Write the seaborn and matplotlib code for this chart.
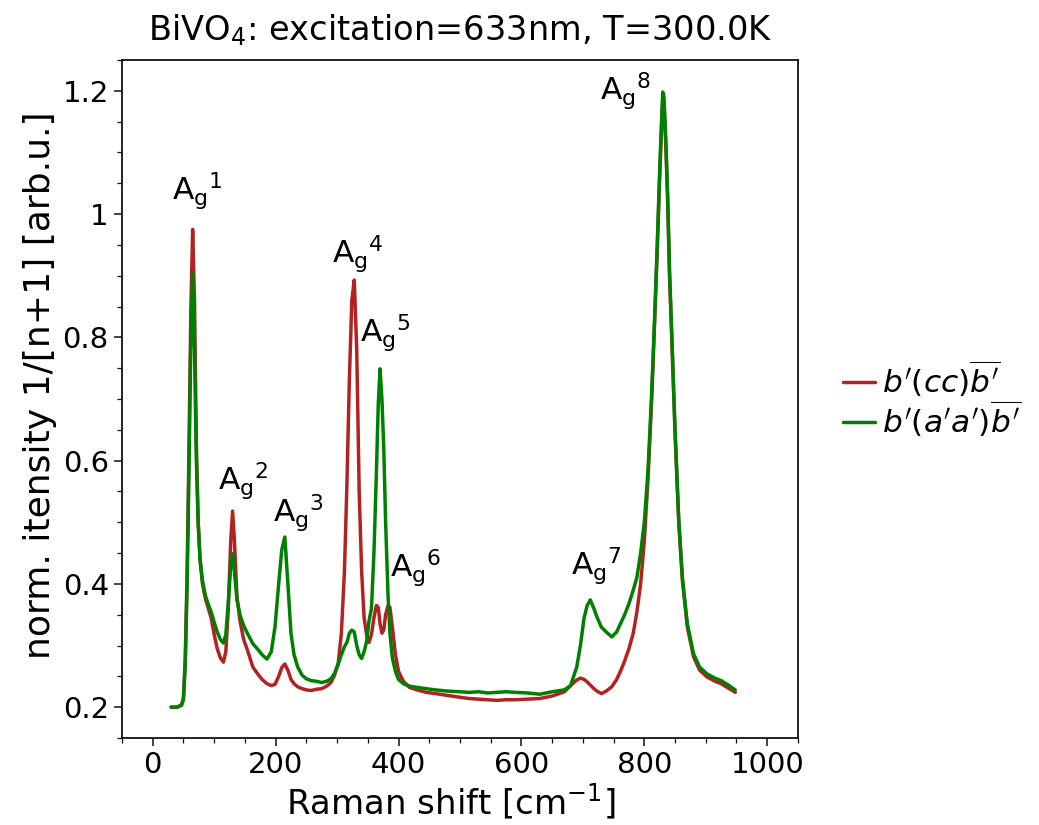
import matplotlib
matplotlib.use("Agg")
import matplotlib.pyplot as plt
from matplotlib.ticker import MultipleLocator, FuncFormatter
import pandas as pd
import seaborn as sns

# Raman shift grid [cm^-1]
raman_shift = [
    30, 40, 47, 50, 53, 56, 59, 62, 65, 68, 71, 74, 77, 81, 86, 90, 95, 100,
    105, 110, 115, 119, 123, 127, 130, 133, 137, 142, 148, 155, 163, 170, 178,
    186, 193, 199, 205, 210, 215, 220, 225, 230, 236, 243, 250, 258, 266, 275,
    283, 290, 296, 302, 307, 312, 316, 320, 324, 328, 332, 336, 340, 344, 348,
    352, 356, 360, 364, 367, 370, 373, 376, 379, 383, 386, 390, 395, 400, 408,
    418, 430, 445, 460, 480, 500, 515, 530, 545, 560, 575, 590, 610, 630, 650,
    670, 680, 690, 696, 702, 707, 712, 718, 723, 730, 738, 747, 755, 762, 768,
    775, 782, 788, 794, 800, 806, 812, 817, 821, 825, 828, 830, 832, 835, 838,
    841, 845, 850, 856, 862, 870, 880, 890, 902, 915, 925, 935, 948,
]

# normalised intensity, b'(cc)b' geometry
intensity_cc = [
    0.200, 0.200, 0.204, 0.215, 0.280, 0.420, 0.620, 0.840, 0.975, 0.860,
    0.630, 0.500, 0.440, 0.400, 0.375, 0.362, 0.345, 0.318, 0.295, 0.280,
    0.273, 0.290, 0.360, 0.470, 0.518, 0.470, 0.380, 0.340, 0.310, 0.290,
    0.265, 0.255, 0.245, 0.238, 0.235, 0.237, 0.250, 0.264, 0.270, 0.260,
    0.245, 0.238, 0.233, 0.230, 0.228, 0.227, 0.229, 0.230, 0.234, 0.240,
    0.252, 0.272, 0.320, 0.420, 0.560, 0.730, 0.860, 0.893, 0.780, 0.550,
    0.420, 0.345, 0.318, 0.305, 0.318, 0.345, 0.365, 0.362, 0.335, 0.320,
    0.325, 0.350, 0.365, 0.362, 0.330, 0.285, 0.258, 0.242, 0.232, 0.228,
    0.224, 0.222, 0.219, 0.216, 0.214, 0.213, 0.212, 0.211, 0.212, 0.212,
    0.213, 0.214, 0.218, 0.225, 0.235, 0.244, 0.247, 0.245, 0.241, 0.236,
    0.230, 0.226, 0.222, 0.226, 0.233, 0.245, 0.260, 0.275, 0.295, 0.320,
    0.355, 0.400, 0.470, 0.570, 0.700, 0.830, 0.940, 1.060, 1.140, 1.185,
    1.180, 1.110, 1.020, 0.900, 0.790, 0.645, 0.500, 0.405, 0.330, 0.282,
    0.260, 0.249, 0.242, 0.238, 0.232, 0.224,
]

# normalised intensity, b'(a'a')b' geometry
intensity_aa = [
    0.200, 0.200, 0.203, 0.212, 0.270, 0.400, 0.580, 0.790, 0.905, 0.780,
    0.600, 0.500, 0.440, 0.405, 0.380, 0.368, 0.355, 0.338, 0.322, 0.310,
    0.304, 0.318, 0.370, 0.430, 0.449, 0.420, 0.375, 0.350, 0.332, 0.318,
    0.303, 0.295, 0.285, 0.278, 0.290, 0.330, 0.400, 0.455, 0.476, 0.400,
    0.320, 0.285, 0.265, 0.252, 0.246, 0.243, 0.242, 0.240, 0.242, 0.246,
    0.255, 0.270, 0.285, 0.298, 0.305, 0.320, 0.325, 0.322, 0.300, 0.285,
    0.279, 0.290, 0.306, 0.340, 0.360, 0.450, 0.580, 0.690, 0.749, 0.700,
    0.620, 0.500, 0.380, 0.320, 0.280, 0.258, 0.245, 0.238, 0.234, 0.232,
    0.230, 0.228, 0.226, 0.225, 0.224, 0.225, 0.223, 0.224, 0.225, 0.224,
    0.223, 0.221, 0.225, 0.228, 0.235, 0.265, 0.300, 0.345, 0.365, 0.374,
    0.360, 0.346, 0.330, 0.322, 0.314, 0.322, 0.337, 0.350, 0.368, 0.390,
    0.411, 0.450, 0.500, 0.584, 0.710, 0.840, 0.950, 1.070, 1.150, 1.198,
    1.190, 1.120, 1.030, 0.910, 0.795, 0.650, 0.505, 0.410, 0.335, 0.287,
    0.265, 0.254, 0.247, 0.243, 0.237, 0.228,
]

geometry_labels = [r"$b'(cc)\overline{b'}$", r"$b'(a'a')\overline{b'}$"]
line_colors = ["#b22222", "#008000"]

# Ag mode labels and where they sit
mode_numbers = ["1", "2", "3", "4", "5", "6", "7", "8"]
mode_label_x = [31, 106, 196, 292, 337, 386, 680, 728]
mode_label_y = [1.022, 0.552, 0.500, 0.920, 0.792, 0.411, 0.414, 1.184]

sns.set_theme(style="ticks")
plt.rcParams["font.family"] = ["DejaVu Sans"]
plt.rcParams["mathtext.fontset"] = "dejavusans"
plt.rcParams["text.color"] = "black"
plt.rcParams["axes.labelcolor"] = "black"
plt.rcParams["xtick.color"] = "black"
plt.rcParams["ytick.color"] = "black"

n = len(raman_shift)
df = pd.DataFrame({
    "shift": raman_shift * 2,
    "intensity": intensity_cc + intensity_aa,
    "geometry": [geometry_labels[0]] * n + [geometry_labels[1]] * n,
})

fig = plt.figure(figsize=(10.39, 8.25), dpi=100)
ax = fig.add_axes([0.1174, 0.1055, 0.6506, 0.8218])

sns.lineplot(
    data=df, x="shift", y="intensity", hue="geometry",
    hue_order=geometry_labels, palette=line_colors,
    estimator=None, sort=False, linewidth=2.5, ax=ax,
)

ax.set_xlim(-50, 1050)
ax.set_ylim(0.15, 1.25)
ax.xaxis.set_major_locator(MultipleLocator(200))
ax.xaxis.set_minor_locator(MultipleLocator(50))
ax.yaxis.set_major_locator(MultipleLocator(0.2))
ax.yaxis.set_minor_locator(MultipleLocator(0.05))
ax.yaxis.set_major_formatter(FuncFormatter(lambda v, _: f"{v:g}"))

ax.tick_params(which="major", direction="out", length=6, width=1.1,
               labelsize=21, color="#111111")
ax.tick_params(which="minor", direction="out", length=3.5, width=0.9,
               color="#111111")
for sp in ax.spines.values():
    sp.set_visible(True)
    sp.set_linewidth(1.3)
    sp.set_color("#111111")

ax.set_xlabel(r"Raman shift [cm$^{-1}$]", fontsize=24.5)
ax.xaxis.set_label_coords(0.487, -0.063)
ax.set_ylabel("norm. itensity 1/[n+1] [arb.u.]", fontsize=26)
ax.yaxis.set_label_coords(-0.096, 0.52)
ax.set_title(r"BiVO$_4$: excitation=633nm, T=300.0K", fontsize=24.2, pad=14)

for num, mx, my in zip(mode_numbers, mode_label_x, mode_label_y):
    ax.text(mx, my, r"A$_\mathrm{g}$$^{" + num + "}$", fontsize=22.5,
            ha="left", va="baseline")

handles, lbls = ax.get_legend_handles_labels()
ax.legend(handles, lbls, loc="center left", bbox_to_anchor=(1.058, 0.5),
          frameon=False, fontsize=22.5, handlelength=1.0, handletextpad=0.25,
          labelspacing=0.0, borderaxespad=0, borderpad=0.2)

fig.savefig("out.png", dpi=100)
